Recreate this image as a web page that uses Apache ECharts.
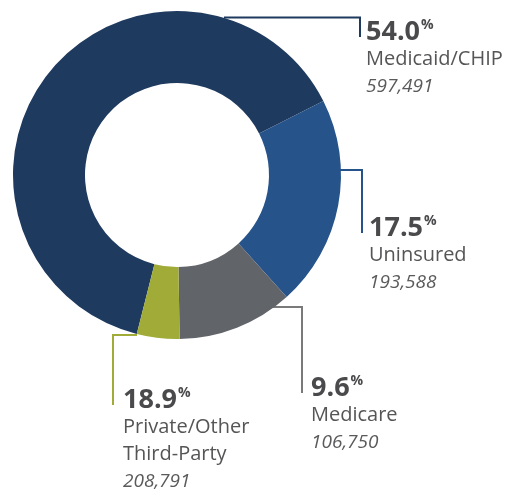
<!DOCTYPE html>
<html lang="en">
<head>
    <meta charset="UTF-8">
    <title>Coverage</title>
    <style>
        html, body { margin: 0; padding: 0; background: #fff; }
        #main { width: 516px; height: 489px; }
    </style>
</head>
<body>
    <div id="main"></div>
    <script src="https://cdn.jsdelivr.net/npm/echarts@6/dist/echarts.min.js"></script>
    <script>
        // labels as printed on the chart
        var names = ['Medicaid/CHIP', 'Uninsured', 'Medicare', 'Private/Other\nThird-Party'];
        var pctLabels = ['54.0', '17.5', '9.6', '18.9'];
        var counts = ['597,491', '193,588', '106,750', '208,791'];
        // slice shares as drawn in the picture (%)
        var shares = [63.6, 20.8, 11.4, 4.2];
        var colors = ['#1f3a5f', '#26538a', '#616469', '#a0ab38'];
        var lineColors = ['#1f3a5f', '#26538a', '#7a7a7a', '#a0ab38'];

        // where each label box sits, and its bracket leader line
        var layouts = [
            { x: 366, y: 18, pts: [[224, 17.5], [360, 17.5], [360, 37]] },
            { x: 369, y: 214, pts: [[340, 170], [362, 170], [362, 233]] },
            { x: 311, y: 374, pts: [[270, 307], [302, 307], [302, 393]] },
            { x: 123, y: 386, pts: [[137, 335], [113, 335], [113, 405]] }
        ];

        var myChart = echarts.init(document.getElementById('main'));

        var seriesData = names.map(function (n, i) {
            return {
                name: n,
                value: shares[i],
                itemStyle: { color: colors[i] },
                labelLine: { lineStyle: { color: lineColors[i], width: 2 } }
            };
        });

        myChart.setOption({
            animation: false,
            series: [{
                type: 'pie',
                center: [177, 175],
                radius: [92, 164],
                startAngle: 255.8,
                clockwise: true,
                avoidLabelOverlap: false,
                data: seriesData,
                label: {
                    show: true,
                    position: 'outside',
                    fontFamily: 'Open Sans',
                    formatter: function (p) {
                        var i = p.dataIndex;
                        var nameLines = names[i].split('\n').map(function (s) {
                            return '{n|' + s + '}';
                        }).join('\n');
                        return '{p|' + pctLabels[i] + '}{s|%}\n' + nameLines + '\n{v|' + counts[i] + '}';
                    },
                    rich: {
                        p: { fontFamily: 'Open Sans', fontWeight: 'bold', fontSize: 27, color: '#4a4a4c', lineHeight: 28 },
                        s: { fontFamily: 'Open Sans', fontWeight: 'bold', fontSize: 14, color: '#4a4a4c', lineHeight: 28, verticalAlign: 'top', padding: [0, 0, 10, 1] },
                        n: { fontFamily: 'Open Sans', fontSize: 20, color: '#555557', lineHeight: 27 },
                        v: { fontFamily: 'Open Sans', fontStyle: 'italic', fontSize: 19, color: '#5a5a5c', lineHeight: 27 }
                    }
                },
                labelLine: { show: true, smooth: false },
                labelLayout: function (params) {
                    var l = layouts[params.dataIndex];
                    return {
                        x: l.x,
                        y: l.y,
                        align: 'left',
                        verticalAlign: 'top',
                        labelLinePoints: l.pts
                    };
                },
                emphasis: { disabled: true }
            }]
        });
    </script>
</body>
</html>
